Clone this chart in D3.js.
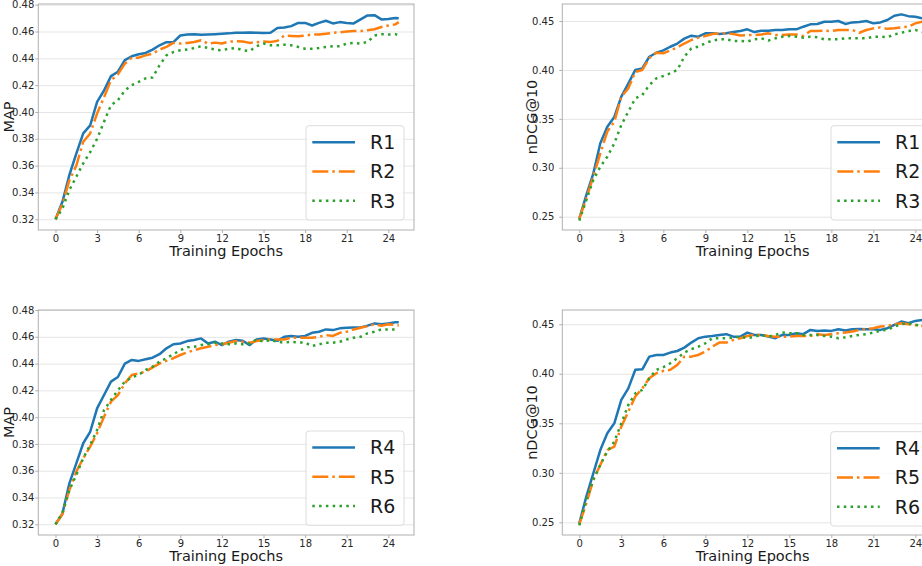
<!DOCTYPE html>
<html><head><meta charset="utf-8">
<script src="https://cdn.jsdelivr.net/npm/d3@7"></script>
<style>body{margin:0;background:#fff} svg{display:block} text{font-family:"DejaVu Sans",sans-serif}</style>
</head><body><svg id="c" width="922" height="566"></svg>
<script>
const epochs = [0,0.5,1,1.5,2,2.5,3,3.5,4,4.5,5,5.5,6,6.5,7,7.5,8,8.5,9,9.5,10,10.5,11,11.5,12,12.5,13,13.5,14,14.5,15,15.5,16,16.5,17,17.5,18,18.5,19,19.5,20,20.5,21,21.5,22,22.5,23,23.5,24,24.5,24.75];
const epochTicks = [0,3,6,9,12,15,18,21,24];
const mapTicks = [0.32,0.34,0.36,0.38,0.40,0.42,0.44,0.46,0.48];
const ndcgTicks = [0.25,0.30,0.35,0.40,0.45];
const namesTop = ["R1","R2","R3"];
const namesBottom = ["R4","R5","R6"];

const R1_map = [0.320,0.333,0.353,0.369,0.384,0.390,0.4075,0.416,0.4267,0.430,0.4386,0.4415,0.443,0.444,0.4465,0.4497,0.452,0.452,0.457,0.4577,0.458,0.4575,0.4577,0.458,0.4584,0.4586,0.459,0.459,0.4593,0.459,0.4588,0.459,0.4626,0.463,0.464,0.4664,0.4664,0.4645,0.4664,0.468,0.466,0.467,0.4664,0.466,0.469,0.472,0.4722,0.469,0.4693,0.470,0.4698];
const R2_map = [0.320,0.3314,0.349,0.360,0.3778,0.384,0.3989,0.411,0.4237,0.428,0.436,0.4405,0.4405,0.4422,0.4435,0.4465,0.4485,0.4515,0.451,0.4515,0.4522,0.4535,0.451,0.4517,0.451,0.4525,0.4527,0.4525,0.4515,0.452,0.4525,0.4522,0.453,0.457,0.4567,0.4564,0.457,0.4577,0.4577,0.4584,0.459,0.4593,0.460,0.4603,0.4603,0.461,0.4617,0.4633,0.4645,0.4653,0.467];
const R3_map = [0.320,0.328,0.3418,0.3517,0.3617,0.370,0.380,0.3927,0.405,0.4088,0.416,0.420,0.4225,0.425,0.4257,0.4348,0.4422,0.4447,0.446,0.4465,0.4477,0.449,0.4477,0.4465,0.446,0.4472,0.4477,0.446,0.4455,0.449,0.451,0.4497,0.4497,0.4502,0.4497,0.4485,0.4472,0.4472,0.4477,0.4485,0.449,0.449,0.451,0.4515,0.451,0.4522,0.457,0.458,0.4577,0.458,0.457];

const R1_ndcg = [0.248,0.272,0.294,0.325,0.342,0.352,0.3727,0.386,0.400,0.4016,0.4135,0.4176,0.420,0.4237,0.427,0.432,0.435,0.434,0.4374,0.4374,0.4367,0.4374,0.4387,0.4398,0.4415,0.4387,0.440,0.440,0.4408,0.4408,0.4415,0.4415,0.4442,0.4466,0.447,0.4493,0.4493,0.450,0.447,0.4486,0.449,0.450,0.4476,0.4486,0.451,0.4554,0.4568,0.455,0.4544,0.4527,0.453];
const R2_ndcg = [0.248,0.2687,0.291,0.3147,0.337,0.347,0.3727,0.3812,0.398,0.400,0.412,0.4176,0.417,0.420,0.423,0.427,0.4306,0.433,0.4347,0.4367,0.4374,0.4374,0.4367,0.4353,0.4357,0.4357,0.4363,0.4374,0.4357,0.4357,0.4363,0.4363,0.4347,0.4398,0.4398,0.440,0.4398,0.4408,0.4408,0.4408,0.438,0.4408,0.4425,0.4435,0.442,0.4425,0.4435,0.4442,0.4476,0.4493,0.4493];
const R3_ndcg = [0.246,0.267,0.2875,0.301,0.3113,0.325,0.3437,0.3573,0.371,0.3744,0.3846,0.3914,0.3938,0.3965,0.400,0.4135,0.422,0.4238,0.4272,0.430,0.4313,0.4313,0.4296,0.4296,0.429,0.4313,0.4323,0.430,0.4323,0.434,0.4347,0.434,0.433,0.434,0.4333,0.4313,0.4313,0.4313,0.4323,0.4323,0.4323,0.4323,0.434,0.434,0.4333,0.4363,0.438,0.4398,0.4408,0.439,0.439];

const R4_map = [0.320,0.328,0.3506,0.3655,0.3805,0.389,0.4066,0.4165,0.4265,0.430,0.440,0.4427,0.442,0.4432,0.4444,0.447,0.4514,0.4544,0.455,0.4568,0.4576,0.4588,0.455,0.4563,0.4538,0.4563,0.4576,0.457,0.4538,0.458,0.4588,0.458,0.457,0.460,0.4606,0.460,0.4606,0.463,0.4638,0.4655,0.465,0.4663,0.4668,0.467,0.467,0.4683,0.470,0.4693,0.470,0.4708,0.4708];
const R5_map = [0.320,0.3275,0.3456,0.3593,0.3693,0.378,0.388,0.4003,0.4116,0.4165,0.4252,0.4315,0.4327,0.434,0.4372,0.440,0.442,0.444,0.4464,0.4484,0.450,0.4514,0.4526,0.4538,0.4544,0.4556,0.4568,0.4563,0.4556,0.4568,0.4576,0.458,0.458,0.458,0.4593,0.4593,0.4593,0.4593,0.460,0.4613,0.4606,0.463,0.4638,0.4655,0.4668,0.468,0.4693,0.4683,0.4693,0.4688,0.4685];
const R6_map = [0.320,0.3287,0.3456,0.3568,0.3693,0.3792,0.3904,0.4053,0.4128,0.420,0.4265,0.4297,0.4315,0.4352,0.4377,0.4414,0.444,0.447,0.450,0.4521,0.4526,0.4538,0.4544,0.4556,0.455,0.4544,0.455,0.4544,0.455,0.458,0.4563,0.4576,0.4563,0.4556,0.4563,0.4558,0.4556,0.4531,0.4544,0.4556,0.4556,0.4563,0.458,0.4593,0.460,0.4626,0.4638,0.4655,0.4655,0.4655,0.465];

const R4_ndcg = [0.249,0.276,0.2995,0.323,0.340,0.350,0.3736,0.3853,0.404,0.4045,0.4173,0.419,0.419,0.4214,0.423,0.4264,0.4315,0.4359,0.4375,0.4382,0.4392,0.440,0.4375,0.4375,0.4416,0.4392,0.4392,0.4375,0.4359,0.4392,0.4392,0.4409,0.440,0.4443,0.4433,0.4436,0.4433,0.445,0.4436,0.445,0.4453,0.445,0.445,0.4443,0.446,0.4493,0.4527,0.451,0.4534,0.4544,0.4544];
const R5_ndcg = [0.248,0.2692,0.2928,0.308,0.323,0.3264,0.3466,0.3618,0.377,0.3853,0.3955,0.4005,0.4029,0.404,0.409,0.4173,0.4173,0.419,0.4224,0.4274,0.4315,0.4315,0.4342,0.4359,0.4382,0.4392,0.4392,0.4382,0.4375,0.4375,0.4375,0.4382,0.4382,0.4382,0.440,0.4392,0.440,0.4409,0.4416,0.4426,0.4443,0.445,0.446,0.4477,0.4483,0.450,0.451,0.450,0.4493,0.4483,0.448];
const R6_ndcg = [0.247,0.2726,0.2928,0.308,0.3214,0.3315,0.350,0.3685,0.3803,0.3837,0.3955,0.404,0.4066,0.4106,0.4157,0.4214,0.4248,0.4274,0.4308,0.4359,0.4359,0.4359,0.4365,0.4375,0.4359,0.4375,0.4392,0.4375,0.4392,0.4416,0.4409,0.4409,0.4392,0.4392,0.4392,0.4382,0.4375,0.4359,0.4368,0.4382,0.4392,0.440,0.4416,0.4436,0.4443,0.4477,0.450,0.451,0.4493,0.4483,0.448];

const colors = ["#1f77b4", "#ff7f0e", "#2ca02c"];
const dashes = [null, "16,4,2.5,4", "2.5,4.3"];

const svg = d3.select("#c");

const panels = [
  {id: "p1", xr: [38.3, 414], yr: [4, 230], xd: [-1.24, 25.85], yd: [0.3120, 0.4805], ticks: mapTicks, label: "MAP", labelX: 13.5, yPad: 0, names: namesTop, data: [R1_map, R2_map, R3_map], leg: [306, 125.7]},
  {id: "p2", xr: [562.3, 942.8], yr: [4, 230], xd: [-1.214, 25.96], yd: [0.2364, 0.4674], ticks: ndcgTicks, label: "nDCG@10", labelX: 537, yPad: 4, names: namesTop, data: [R1_ndcg, R2_ndcg, R3_ndcg], leg: [831, 125.7]},
  {id: "p3", xr: [38.3, 414], yr: [310, 535], xd: [-1.24, 25.85], yd: [0.3120, 0.4800], ticks: mapTicks, label: "MAP", labelX: 13.5, yPad: 0, names: namesBottom, data: [R4_map, R5_map, R6_map], leg: [306, 431]},
  {id: "p4", xr: [562.3, 942.8], yr: [310, 535], xd: [-1.214, 25.96], yd: [0.2372, 0.4644], ticks: ndcgTicks, label: "nDCG@10", labelX: 537, yPad: 4, names: namesBottom, data: [R4_ndcg, R5_ndcg, R6_ndcg], leg: [830.7, 431.7]}
];

const defs = svg.append("defs");

panels.forEach(p => {
  const x = d3.scaleLinear().domain(p.xd).range(p.xr);
  const y = d3.scaleLinear().domain(p.yd).range([p.yr[1], p.yr[0]]);
  const w = p.xr[1] - p.xr[0], h = p.yr[1] - p.yr[0];
  const g = svg.append("g");

  defs.append("clipPath").attr("id", "clip-" + p.id)
    .append("rect").attr("x", p.xr[0]).attr("y", p.yr[0]).attr("width", w).attr("height", h);

  // grid
  const grid = g.append("g").attr("transform", `translate(${p.xr[0]},0)`)
    .call(d3.axisLeft(y).tickValues(p.ticks).tickSize(-w).tickFormat(""));
  grid.select(".domain").remove();
  grid.selectAll("line").attr("stroke", "#e5e5e5").attr("stroke-width", 1);

  // y axis ticks
  const ya = g.append("g").attr("transform", `translate(${p.xr[0]},0)`)
    .call(d3.axisLeft(y).tickValues(p.ticks).tickSize(3).tickPadding(1 + p.yPad).tickFormat(d3.format(".2f")));
  ya.select(".domain").remove();
  ya.selectAll("line").attr("stroke", "#b0b0b0");
  ya.selectAll("text").attr("font-size", 10).attr("fill", "#262626").attr("font-family", "DejaVu Sans");

  // x axis ticks
  const xa = g.append("g").attr("transform", `translate(0,${p.yr[1]})`)
    .call(d3.axisBottom(x).tickValues(epochTicks).tickSize(3).tickPadding(1.5).tickFormat(d3.format("d")));
  xa.select(".domain").remove();
  xa.selectAll("line").attr("stroke", "#b0b0b0");
  xa.selectAll("text").attr("font-size", 10).attr("fill", "#262626").attr("font-family", "DejaVu Sans");

  // lines
  const lines = g.append("g").attr("clip-path", `url(#clip-${p.id})`);
  p.data.forEach((vals, i) => {
    const line = d3.line().x((d, k) => x(epochs[k])).y(d => y(d));
    const path = lines.append("path").datum(vals).attr("d", line)
      .attr("fill", "none").attr("stroke", colors[i]).attr("stroke-width", 2.5)
      .attr("stroke-linejoin", "round");
    if (dashes[i]) path.attr("stroke-dasharray", dashes[i]);
  });

  // frame
  g.append("rect").attr("x", p.xr[0]).attr("y", p.yr[0]).attr("width", w).attr("height", h)
    .attr("fill", "none").attr("stroke", "#b0b0b0").attr("stroke-width", 1);

  // axis titles
  g.append("text").attr("x", (p.xr[0] + p.xr[1]) / 2).attr("y", p.yr[1] + 25.5)
    .attr("text-anchor", "middle").attr("font-size", 14.5).attr("fill", "#1a1a1a").text("Training Epochs");
  g.append("text").attr("transform", `translate(${p.labelX},${(p.yr[0] + p.yr[1]) / 2}) rotate(-90)`)
    .attr("text-anchor", "middle").attr("font-size", 14.5).attr("fill", "#1a1a1a").text(p.label);

  // legend
  const lg = g.append("g").attr("transform", `translate(${p.leg[0]},${p.leg[1]})`);
  lg.append("rect").attr("width", 98).attr("height", 94.3).attr("rx", 3)
    .attr("fill", "#fff").attr("fill-opacity", 0.8).attr("stroke", "#dcdcdc").attr("stroke-width", 1);
  p.names.forEach((n, i) => {
    const cy = 16.6 + i * 29.2;
    const ln = lg.append("line").attr("x1", 6.3).attr("x2", 49).attr("y1", cy).attr("y2", cy)
      .attr("stroke", colors[i]).attr("stroke-width", 2.5);
    if (dashes[i]) ln.attr("stroke-dasharray", dashes[i]);
    lg.append("text").attr("x", 64).attr("y", cy).attr("dy", "0.36em")
      .attr("font-size", 19).attr("fill", "#1a1a1a").text(n);
  });
});
</script>
</body></html>
